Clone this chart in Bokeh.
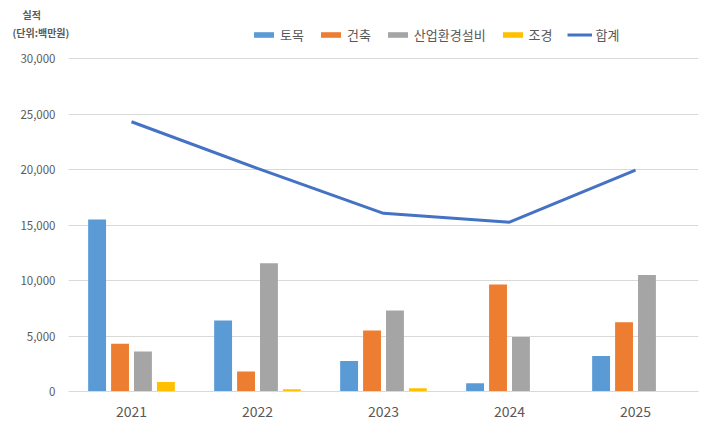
from bokeh.plotting import figure
from bokeh.models import (ColumnDataSource, FactorRange, Range1d, Legend, LegendItem,
                          Title, FixedTicker, NumeralTickFormatter)
from bokeh.transform import dodge
from bokeh.embed import file_html
from bokeh.resources import INLINE

years = ["2021", "2022", "2023", "2024", "2025"]
civil = [15500, 6400, 2750, 750, 3200]          # 토목
building = [4300, 1800, 5500, 9650, 6250]       # 건축
plant = [3600, 11550, 7300, 4900, 10500]        # 산업환경설비
landscape = [850, 200, 300, 0, 0]               # 조경
total = [24300, 20100, 16050, 15250, 19950]     # 합계
y_ticks = [0, 5000, 10000, 15000, 20000, 25000, 30000]

series_names = ["토목", "건축", "산업환경설비", "조경"]
colors = ["#5B9BD5", "#ED7D31", "#A5A5A5", "#FFC000"]
line_color = "#4472C4"
FONT = "Noto Sans CJK KR"
TXT = "#595959"

src = ColumnDataSource(dict(years=years, civil=civil, building=building,
                            plant=plant, landscape=landscape, total=total))

W, H = 700, 428
TOP, BOTTOM = 23, 37
frame_h = H - TOP - BOTTOM
axis_h = 333  # pixel height of 0..30000
y_end = 30000 * frame_h / axis_h

p = figure(width=W, height=H, x_range=FactorRange(*years, range_padding=0),
           y_range=Range1d(0, y_end), output_backend="svg", toolbar_location=None,
           min_border_left=68, min_border_right=2, min_border_top=TOP, min_border_bottom=BOTTOM)
p.outline_line_color = None
p.xgrid.grid_line_color = None
p.ygrid.grid_line_color = "#D9D9D9"
p.ygrid.grid_line_width = 1

stride = 0.182
width = 0.142
renderers = []
for i, (col, c) in enumerate(zip(["civil", "building", "plant", "landscape"], colors)):
    r = p.vbar(x=dodge("years", (i - 1.5) * stride, range=p.x_range), top=col, width=width,
               source=src, fill_color=c, line_color=None)
    renderers.append(r)

lr = p.line(x="years", y="total", source=src, line_color=line_color, line_width=3)
renderers.append(lr)

p.yaxis.ticker = FixedTicker(ticks=y_ticks)
p.ygrid.ticker = FixedTicker(ticks=y_ticks)
p.yaxis.formatter = NumeralTickFormatter(format="0,0")
p.yaxis.axis_line_color = None
p.yaxis.major_tick_line_color = None
p.yaxis.minor_tick_line_color = None
p.yaxis.major_label_text_font = FONT
p.yaxis.major_label_text_font_size = "11.5px"
p.yaxis.major_label_text_color = TXT
p.yaxis.major_label_standoff = 7

p.xaxis.axis_line_color = "#D9D9D9"
p.xaxis.major_tick_line_color = None
p.xaxis.minor_tick_line_color = None
p.xaxis.major_label_text_font = FONT
p.xaxis.major_label_text_font_size = "14px"
p.xaxis.major_label_text_color = TXT
p.xaxis.major_label_standoff = 8

items = [LegendItem(label=n, renderers=[r]) for n, r in zip(series_names + ["합계"], renderers)]
legend = Legend(items=items, orientation="horizontal", location=(183, 347),
                glyph_width=25, glyph_height=7, label_standoff=4, spacing=14,
                padding=0, margin=0, background_fill_alpha=0, border_line_color=None,
                label_text_font=FONT, label_text_font_size="13px", label_text_color=TXT)
p.add_layout(legend)

p.add_layout(Title(text="\u3000\n\u3000실적\n(단위:백만원)", align="left", offset=-56, standoff=-32,
                   text_font=FONT, text_font_size="10px", text_font_style="bold",
                   text_line_height=1.2, text_color=TXT), "above")

open("out.html", "w").write(file_html(p, INLINE))
